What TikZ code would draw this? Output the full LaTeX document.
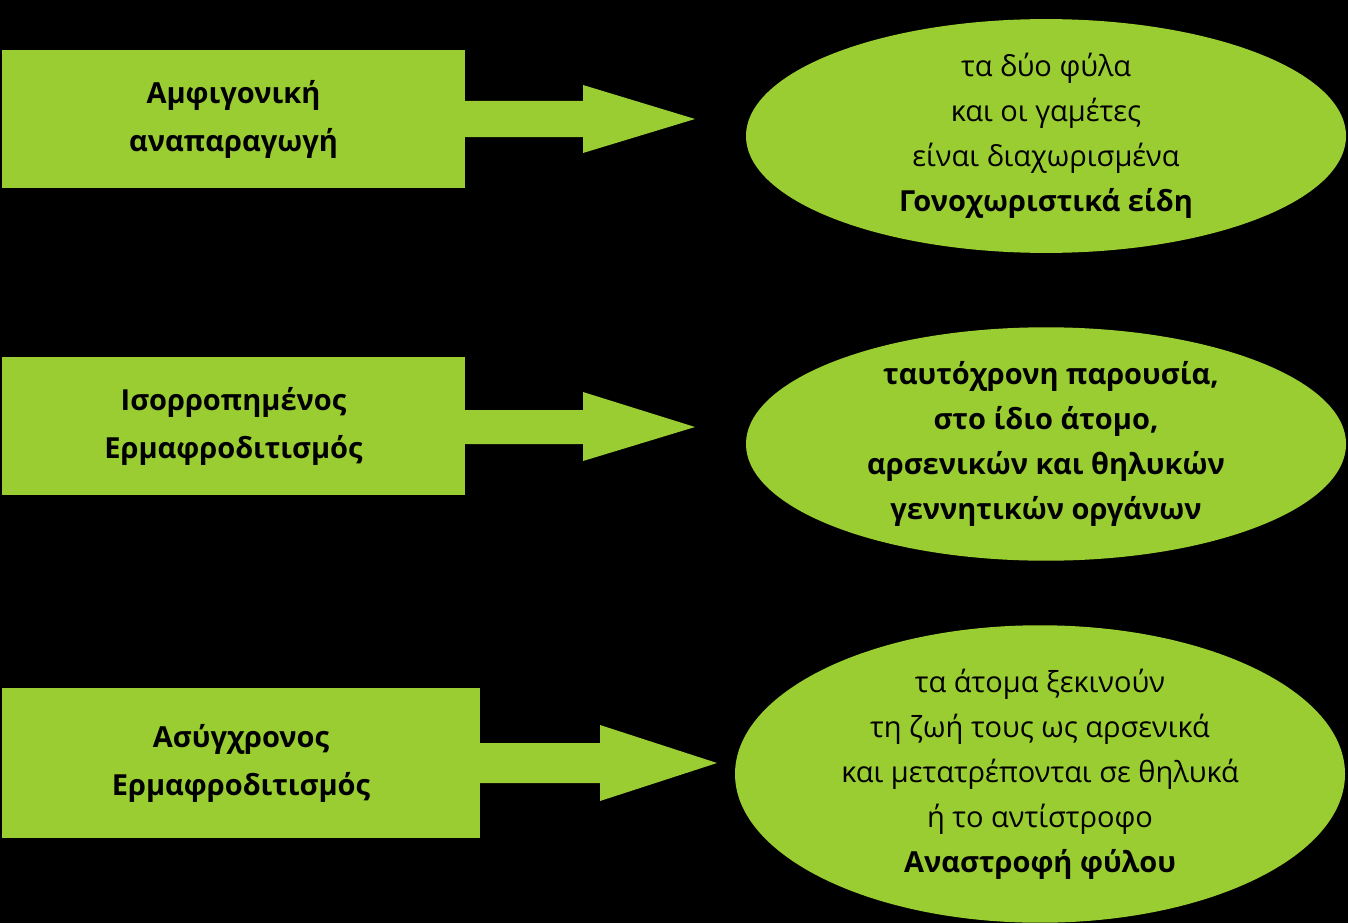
\documentclass[tikz,border=0pt]{standalone}
\usepackage{fontspec}
\setmainfont{Open Sans}
\usetikzlibrary{shapes.geometric}
\definecolor{gr}{HTML}{9ACD32}
\tikzset{
 box/.style={fill=gr,draw=none,inner sep=0pt,align=center,font=\fontsize{29}{48}\selectfont\bfseries},
 ell/.style={ellipse,fill=gr,draw=none,inner sep=0pt,align=center,font=\fontsize{29}{45}\selectfont},
 arr/.style={fill=gr,draw=none}
}
\begin{document}
\begin{tikzpicture}[x=1pt,y=-1pt]
\fill[black] (0,0) rectangle (1348,923);
\useasboundingbox (0,0) rectangle (1348,923);
\node[box,minimum width=463pt,minimum height=138pt] (r1) at (233.5,119) {Αμφιγονική\\αναπαραγωγή};
\node[box,minimum width=463pt,minimum height=138pt] (r2) at (233.5,426) {Ισορροπημένος\\Ερμαφροδιτισμός};
\node[box,minimum width=478pt,minimum height=150pt] (r3) at (241,763) {Ασύγχρονος\\Ερμαφροδιτισμός};
\node[ell,minimum width=600pt,minimum height=220pt] (e1) at (1046,136) {τα δύο φύλα\\και οι γαμέτες\\είναι διαχωρισμένα\\\textbf{Γονοχωριστικά είδη}};
\node[ell,minimum width=600pt,minimum height=217pt,font=\fontsize{29}{45}\selectfont\bfseries] (e2) at (1046,444) {\hspace*{10pt}ταυτόχρονη παρουσία,\\στο ίδιο άτομο,\\αρσενικών και θηλυκών\\γεννητικών οργάνων};
\node[ell,minimum width=610pt,minimum height=292pt] (e3) at (1040,774) {τα άτομα ξεκινούν\\τη ζωή τους ως αρσενικά\\και μετατρέπονται σε θηλυκά\\ή το αντίστροφο\\\textbf{Αναστροφή φύλου}};
\fill[arr] (r1.east|-0,101) -- (583,101) -- (583,85) -- (695,119) -- (583,153) -- (583,137) -- (r1.east|-0,137) -- cycle;
\fill[arr] (r2.east|-0,410) -- (583,410) -- (583,392) -- (695,427) -- (583,461) -- (583,444) -- (r2.east|-0,444) -- cycle;
\fill[arr] (r3.east|-0,743) -- (600,743) -- (600,725) -- (717,763) -- (600,801) -- (600,783) -- (r3.east|-0,783) -- cycle;
\end{tikzpicture}
\end{document}
